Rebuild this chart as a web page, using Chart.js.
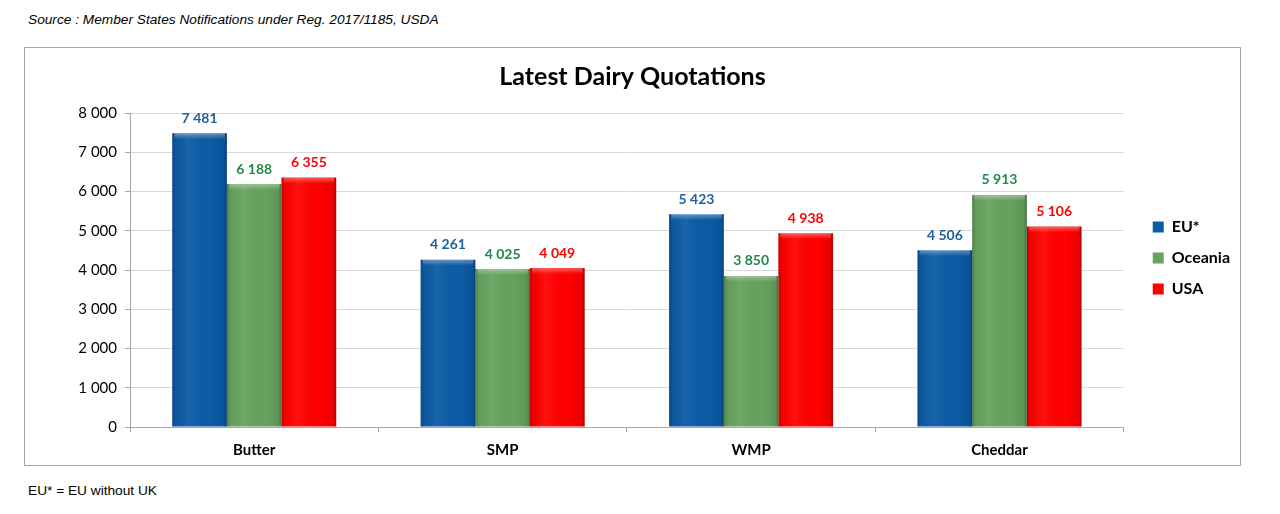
<!DOCTYPE html>
<html>
<head>
<meta charset="utf-8">
<script src="https://cdn.jsdelivr.net/npm/chart.js@4/dist/chart.umd.min.js"></script>
<style>
    body { margin: 0; background: #fff; width: 1280px; height: 514px; position: relative; overflow: hidden; }
    .note { position: absolute; left: 28px; font-family: "Liberation Sans", Arial, sans-serif; font-size: 13.7px; color: #000; }
    #source { top: 12px; font-style: italic; }
    #footer { top: 483px; }
    #frame { position: absolute; left: 24px; top: 47px; width: 1217px; height: 419px; border: 1px solid #a6a6a6; box-sizing: border-box; }
    #chartBox { position: absolute; left: 25px; top: 48px; width: 1215px; height: 422px; }
</style>
</head>
<body>
<div id="source" class="note">Source : Member States Notifications under Reg. 2017/1185, USDA</div>
<div id="frame"></div>
<div id="chartBox"><canvas id="dairyChart"></canvas></div>
<div id="footer" class="note">EU* = EU without UK</div>

<script>
    // chart data
    const products = ['Butter', 'SMP', 'WMP', 'Cheddar'];
    const euValues = [7481, 4261, 5423, 4506];
    const oceaniaValues = [6188, 4025, 3850, 5913];
    const usaValues = [6355, 4049, 4938, 5106];
    const seriesNames = ['EU*', 'Oceania', 'USA'];

    const barColors = ['#0c5ba5', '#66a25e', '#ff0000'];
    const labelColors = ['#1f5f9b', '#23874a', '#ff0000'];

    const fmt = v => String(Math.round(v)).replace(/\B(?=(\d{3})+(?!\d))/g, ' ');

    // value labels above the bars + a bit of shading on each bar
    const barExtras = {
        id: 'barExtras',
        afterDatasetsDraw(chart) {
            const ctx = chart.ctx;
            chart.data.datasets.forEach((ds, i) => {
                const meta = chart.getDatasetMeta(i);
                meta.data.forEach((bar, j) => {
                    const left = bar.x - bar.width / 2;
                    const h = bar.base - bar.y;
                    ctx.save();
                    let g = ctx.createLinearGradient(left, 0, left + bar.width, 0);
                    g.addColorStop(0, 'rgba(0,0,0,0.22)');
                    g.addColorStop(0.06, 'rgba(0,0,0,0.05)');
                    g.addColorStop(0.3, 'rgba(255,255,255,0.06)');
                    g.addColorStop(0.7, 'rgba(0,0,0,0)');
                    g.addColorStop(0.94, 'rgba(0,0,0,0.08)');
                    g.addColorStop(1, 'rgba(0,0,0,0.3)');
                    ctx.fillStyle = g;
                    ctx.fillRect(left, bar.y, bar.width, h);
                    let t = ctx.createLinearGradient(0, bar.y, 0, bar.y + 6);
                    t.addColorStop(0, 'rgba(255,255,255,0.35)');
                    t.addColorStop(1, 'rgba(255,255,255,0)');
                    ctx.fillStyle = t;
                    ctx.fillRect(left + 2, bar.y, bar.width - 4, 6);

                    ctx.fillStyle = labelColors[i];
                    ctx.font = 'bold 14px Lato, "Open Sans", sans-serif';
                    ctx.textAlign = 'center';
                    ctx.textBaseline = 'bottom';
                    ctx.fillText(fmt(ds.data[j]), bar.x, bar.y - 8);
                    ctx.restore();
                });
            });
        }
    };

    var ctx = document.getElementById('dairyChart').getContext('2d');
    var dairyChart = new Chart(ctx, {
        type: 'bar',
        data: {
            labels: products,
            datasets: [
                { label: seriesNames[0], data: euValues, backgroundColor: barColors[0] },
                { label: seriesNames[1], data: oceaniaValues, backgroundColor: barColors[1] },
                { label: seriesNames[2], data: usaValues, backgroundColor: barColors[2] }
            ]
        },
        options: {
            responsive: true,
            maintainAspectRatio: false,
            animation: false,
            devicePixelRatio: 1,
            layout: { padding: { left: 0, right: 0, top: 0, bottom: 2 } },
            datasets: { bar: { categoryPercentage: 0.66, barPercentage: 1.0 } },
            scales: {
                x: {
                    grid: { drawOnChartArea: false, drawTicks: true, tickLength: 5, color: '#a6a6a6' },
                    border: { color: '#a6a6a6' },
                    ticks: { color: '#000', font: { family: 'Lato', size: 15, weight: 'bold' }, padding: 9 }
                },
                y: {
                    min: 0,
                    max: 8000,
                    afterFit: scale => { scale.width = 105; },
                    grid: { color: '#d9d9d9', tickLength: 5, tickColor: '#a6a6a6' },
                    border: { color: '#a6a6a6' },
                    ticks: {
                        stepSize: 1000,
                        color: '#000',
                        font: { family: 'Lato', size: 15 },
                        padding: 8,
                        callback: v => fmt(v)
                    }
                }
            },
            plugins: {
                title: {
                    display: true,
                    text: 'Latest Dairy Quotations',
                    color: '#000',
                    font: { family: 'Lato', size: 25, weight: 'bold' },
                    padding: { top: 14, bottom: 21 }
                },
                legend: {
                    position: 'right',
                    labels: {
                        boxWidth: 11,
                        boxHeight: 11,
                        padding: 15,
                        color: '#000',
                        font: { family: 'Lato', size: 16, weight: 'bold' }
                    }
                },
                tooltip: { enabled: false }
            }
        },
        plugins: [barExtras]
    });

    // widen the legend box so the plot ends where it does in the original,
    // and push the legend items to the right inside it
    const legendExtra = 14, legendShift = 14;
    const origFit = dairyChart.legend.fit;
    dairyChart.legend.fit = function () {
        origFit.call(this);
        this.width += legendExtra;
    };
    const origDraw = dairyChart.legend.draw;
    dairyChart.legend.draw = function () {
        this.ctx.save();
        this.ctx.translate(legendShift, 0);
        origDraw.call(this);
        this.ctx.restore();
    };
    dairyChart.update();
</script>
</body>
</html>
